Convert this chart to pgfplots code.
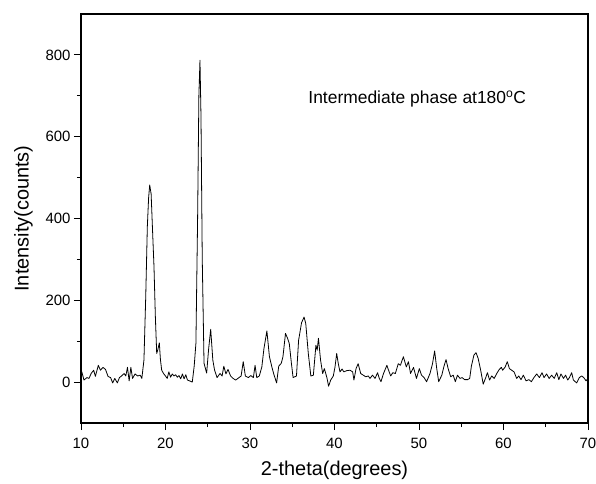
\documentclass[border=0pt]{standalone}
\usepackage{pgfplots}
\pgfplotsset{compat=1.18}
\usepackage{fontspec}
\setmainfont{Liberation Sans}

% XRD pattern, intermediate phase
\pgfplotstableread{
x y
10.0 25
10.1 25
10.35 5
10.7 11
10.95 9
11.2 21
11.5 29
11.7 14
12.05 41
12.3 29
12.6 36
12.9 31
13.2 14
13.5 11
13.75 -2
14.0 9
14.3 -2
14.55 11
14.8 15
15.1 21
15.3 15
15.5 36
15.7 3
15.9 36
16.1 9
16.4 20
16.7 15
17.0 17
17.2 9
17.45 54
17.66 208
17.85 380
18.0 450
18.13 482
18.3 460
18.45 380
18.64 281
18.8 160
18.96 70
19.1 80
19.27 96
19.4 55
19.55 29
19.8 20
20.0 15
20.2 9
20.4 25
20.6 12
20.8 20
21.0 15
21.2 18
21.4 12
21.6 16
21.8 8
22.0 20
22.2 8
22.4 18
22.6 5
22.85 3
23.17 0
23.4 40
23.6 95
23.8 400
23.95 700
24.08 787
24.2 650
24.35 300
24.56 46
24.87 22
25.1 80
25.35 129
25.6 54
25.8 30
26.1 11
26.45 21
26.7 15
26.9 39
27.15 20
27.4 31
27.7 15
28.0 9
28.3 5
28.7 11
28.95 15
29.2 50
29.45 15
29.8 11
30.1 16
30.4 11
30.6 41
30.8 11
31.1 15
31.4 37
31.65 82
32.0 125
32.3 62
32.6 36
32.85 17
33.15 -2
33.4 39
33.7 46
33.9 62
34.2 119
34.45 107
34.65 94
34.9 46
35.1 11
35.5 15
35.75 102
36.1 145
36.4 159
36.6 143
36.9 70
37.2 15
37.5 17
37.8 90
37.95 78
38.1 107
38.35 54
38.6 21
38.8 33
39.1 11
39.3 -10
39.55 5
39.86 15
40.06 37
40.26 70
40.45 45
40.65 25
40.9 32
41.1 25
41.45 28
41.84 29
42.15 25
42.3 5
42.55 33
42.8 45
43.1 21
43.4 17
43.7 13
44.0 15
44.2 9
44.5 17
44.8 9
45.1 23
45.3 9
45.5 1
45.8 21
46.2 41
46.4 29
46.65 15
46.9 23
47.2 21
47.55 45
47.8 41
48.15 62
48.5 37
48.75 50
49.0 21
49.35 36
49.7 9
50.04 33
50.3 17
50.6 11
50.9 1
51.3 21
51.6 45
51.85 76
52.1 33
52.33 1
52.7 17
52.96 39
53.2 55
53.45 33
53.75 13
54.05 17
54.3 1
54.55 17
54.85 9
55.1 11
55.4 6
55.75 6
56.0 9
56.2 39
56.5 66
56.75 72
57.0 58
57.3 29
57.6 -5
57.9 11
58.1 23
58.35 5
58.6 15
58.9 9
59.2 21
59.5 31
59.75 36
59.9 29
60.2 37
60.45 50
60.7 33
60.97 29
61.25 25
61.56 9
61.8 15
62.07 6
62.35 17
62.67 3
63.0 6
63.3 1
63.6 11
63.93 20
64.25 11
64.56 23
64.8 11
65.1 20
65.4 9
65.7 17
66.0 9
66.3 23
66.55 6
66.8 20
67.1 9
67.35 17
67.6 5
67.8 11
68.07 23
68.27 5
68.66 -2
68.97 11
69.25 15
69.5 11
69.77 3
70.0 9
}\xrd

\newcommand{\tickfont}{\fontsize{15}{18}\selectfont}

\begin{document}
\begin{tikzpicture}
\pgfplotsset{
  every axis/.append style={scale only axis, width=507bp, height=409bp,
    xmin=10, xmax=70, ymin=-100, ymax=900,
    axis line style={line width=1.1pt}}
}
% inward ticks on top and right
\begin{axis}[axis lines=none, xtick pos=right, ytick pos=right,
  xtick={10,20,...,70}, ytick={0,200,...,800},
  minor x tick num=1, minor y tick num=1,
  tick align=inside, major tick length=3bp, minor tick length=2bp,
  xticklabel={}, yticklabel={}, tick style={line width=0.8pt}]
\end{axis}
\begin{axis}[
  tick pos=left, tick align=outside,
  xtick={10,20,...,70}, ytick={0,200,...,800},
  xticklabel={\tickfont\pgfmathprintnumber[assume math mode=true]{\tick}},
  yticklabel={\tickfont\pgfmathprintnumber[assume math mode=true]{\tick}},
  minor x tick num=1, minor y tick num=1,
  major tick length=7bp, minor tick length=4bp,
  tick style={line width=1pt, black},
  xticklabel style={yshift=-5bp},
  xlabel style={font=\fontsize{20}{24}\selectfont, yshift=-5bp},
  ylabel style={font=\fontsize{20}{24}\selectfont, yshift=6bp},
  xlabel={2-theta(degrees)}, ylabel={Intensity(counts)},
  clip=false]
  \addplot[black, line width=0.8pt, line join=round] table {\xrd};
  \node[anchor=west, font=\fontsize{17.5}{20}\selectfont] at (axis cs:36.5,693)
    {Intermediate phase at180\textsuperscript{o}C};
\end{axis}
\pgfresetboundingbox
\path (-81bp,-61bp) rectangle (515bp,423bp);
\end{tikzpicture}
\end{document}
